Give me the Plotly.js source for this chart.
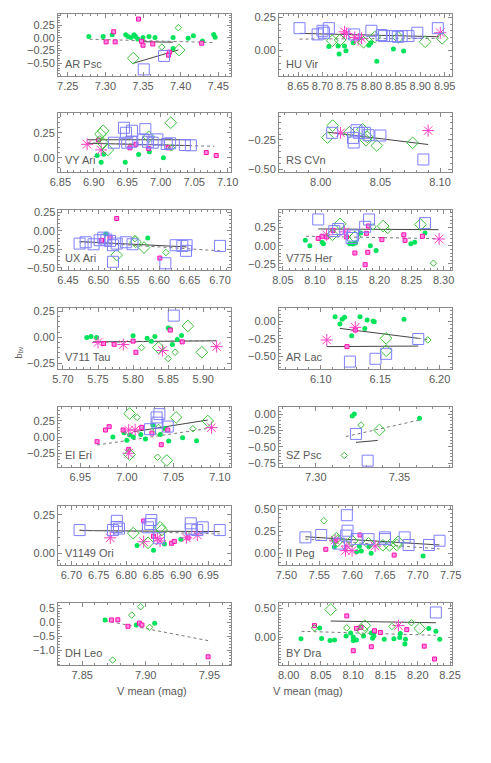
<!DOCTYPE html>
<html>
<head>
<meta charset="utf-8">
<script src="https://cdn.plot.ly/plotly-3.0.1.min.js"></script>
<style>
  html, body { margin: 0; padding: 0; background: #fff; }
  #chart { width: 491px; height: 763px; }
</style>
</head>
<body>
<div id="chart"></div>
<script>
// b_bv against mean V magnitude, one panel per star.
// Point lists are [V mean, b_bv]; fit lines are lists of [[x0,y0],[x1,y1]] segments.

// AR Psc
const arPscCircles = [[7.278,0.026],[7.297,0.026],[7.309,0.06],[7.327,0.06],[7.33,0.026],[7.334,0.01],[7.338,0.06],[7.34,0.026],[7.343,-0.02],[7.35,0.007],[7.358,0.026],[7.366,0.007],[7.39,0.007],[7.39,-0.21],[7.41,-0.007],[7.417,0.04],[7.429,-0.06],[7.444,0.066],[7.446,0.013]];
const arPscPinkSquares = [[7.301,-0.079],[7.311,0.12],[7.313,-0.079],[7.344,0.37],[7.348,-0.066],[7.35,-0.145],[7.363,-0.12],[7.385,-0.28],[7.384,-0.34],[7.428,-0.105]];
const arPscStars = [];
const arPscBigDiamonds = [[7.337,-0.40],[7.398,-0.24]];
const arPscSmallDiamonds = [[7.375,-0.18],[7.397,0.2]];
const arPscBlueSquares = [[7.378,-0.355],[7.351,-0.62]];
const arPscSolid = [[[7.337,-0.5],[7.397,-0.237]], [[7.345,-0.075],[7.39,-0.085]]];
const arPscDotted = [[[7.279,-0.026],[7.446,-0.092]]];

// HU Vir
const huVirCircles = [[8.713,0.026],[8.732,0.03],[8.734,-0.03],[8.745,0.03],[8.748,-0.005],[8.763,0.056],[8.795,0.036],[8.799,0.056],[8.811,-0.087],[8.845,0.008],[8.866,-0.008]];
const huVirPinkSquares = [];
const huVirStars = [[8.745,0.14],[8.749,0.128],[8.766,0.097],[8.773,0.08],[8.78,0.09],[8.941,0.133]];
const huVirBigDiamonds = [[8.72,0.071],[8.736,0.077],[8.784,0.06],[8.807,0.10],[8.855,0.097],[8.91,0.064],[8.945,0.09]];
const huVirSmallDiamonds = [];
const huVirBlueSquares = [[8.653,0.168],[8.69,0.12],[8.70,0.148],[8.703,0.133],[8.713,0.168],[8.765,0.12],[8.80,0.148],[8.821,0.115],[8.826,0.107],[8.842,0.107],[8.854,0.102],[8.862,0.107],[8.876,0.107],[8.894,0.133],[8.936,0.168]];
const huVirSolid = [[[8.653,0.128],[8.938,0.102]]];
const huVirDotted = [[[8.653,0.084],[8.938,0.09]]];

// VY Ari
const vyAriCircles = [[6.905,0.023],[6.911,-0.043],[6.915,0.036],[6.947,-0.043],[6.967,0.033],[6.983,0.062],[7.004,0.0]];
const vyAriPinkSquares = [[6.907,0.178],[6.954,0.10],[6.963,0.135],[6.982,0.092],[7.011,0.10],[7.068,0.053],[7.083,0.023]];
const vyAriStars = [[6.89,0.135],[6.911,0.079]];
const vyAriBigDiamonds = [[6.91,0.237],[6.914,0.27],[6.913,0.15],[6.921,0.079],[6.982,0.21],[7.015,0.35]];
const vyAriSmallDiamonds = [[6.909,0.19],[7.016,0.10]];
const vyAriBlueSquares = [[6.93,0.151],[6.945,0.30],[6.948,0.25],[6.957,0.27],[6.95,0.151],[6.956,0.16],[6.974,0.184],[6.977,0.286],[6.981,0.16],[6.988,0.151],[6.995,0.184],[7.009,0.138],[7.014,0.145],[7.036,0.128],[7.045,0.125]];
const vyAriSolid = [[[6.89,0.18],[7.045,0.18]], [[6.89,0.145],[7.045,0.122]]];
const vyAriDotted = [[[6.89,0.15],[7.08,0.115]]];

// RS CVn
const rsCvnCircles = [];
const rsCvnPinkSquares = [];
const rsCvnStars = [[8.0166,-0.19],[8.09,-0.171]];
const rsCvnBigDiamonds = [[8.0056,-0.23],[8.01,-0.129],[8.024,-0.185],[8.035,-0.16],[8.038,-0.253],[8.047,-0.298],[8.077,-0.275],[8.039,-0.225]];
const rsCvnSmallDiamonds = [];
const rsCvnBlueSquares = [[8.0096,-0.19],[8.0276,-0.272],[8.03,-0.168],[8.032,-0.19],[8.037,-0.19],[8.04,-0.21],[8.05,-0.213],[8.086,-0.416],[8.027,-0.233]];
const rsCvnSolid = [[[8.006,-0.185],[8.09,-0.289]]];
const rsCvnDotted = [];

// UX Ari
const uxAriCircles = [[6.512,-0.045],[6.581,-0.098]];
const uxAriPinkSquares = [[6.505,-0.13],[6.519,-0.094],[6.601,-0.37],[6.53,0.165]];
const uxAriStars = [];
const uxAriBigDiamonds = [[6.53,-0.33],[6.575,-0.228],[6.561,-0.152]];
const uxAriSmallDiamonds = [[6.56,-0.107],[6.611,-0.295]];
const uxAriBlueSquares = [[6.469,-0.174],[6.479,-0.156],[6.492,-0.183],[6.502,-0.129],[6.508,-0.094],[6.513,-0.12],[6.519,-0.138],[6.524,-0.196],[6.53,-0.174],[6.545,-0.156],[6.556,-0.183],[6.524,-0.42],[6.61,-0.44],[6.627,-0.196],[6.638,-0.205],[6.645,-0.196],[6.644,-0.272],[6.70,-0.205]];
const uxAriSolid = [[[6.469,-0.147],[6.645,-0.219]]];
const uxAriDotted = [[[6.469,-0.15],[6.70,-0.272]]];

// V775 Her
const v775HerCircles = [[8.085,0.074],[8.092,0.0],[8.111,0.046],[8.113,0.028],[8.154,0.028],[8.159,0.023],[8.163,0.037],[8.171,0.176],[8.186,0.0],[8.195,-0.065],[8.249,0.028],[8.255,0.046],[8.271,0.176]];
const v775HerPinkSquares = [[8.105,0.10],[8.111,0.13],[8.118,0.12],[8.128,0.21],[8.149,0.12],[8.162,-0.10],[8.178,-0.26],[8.182,-0.09],[8.183,0.27],[8.18,0.17],[8.204,0.083],[8.238,0.15],[8.24,0.074],[8.267,0.13]];
const v775HerStars = [[8.146,0.19],[8.118,0.15],[8.293,0.093]];
const v775HerBigDiamonds = [[8.139,0.30],[8.206,0.27],[8.264,0.29],[8.162,0.12],[8.127,0.15]];
const v775HerSmallDiamonds = [[8.19,0.26],[8.213,0.21],[8.284,-0.24]];
const v775HerBlueSquares = [[8.105,0.36],[8.136,0.23],[8.13,0.2],[8.159,0.14],[8.157,0.106],[8.178,0.26],[8.184,0.36],[8.271,0.31]];
const v775HerSolid = [[[8.105,0.23],[8.292,0.22]]];
const v775HerDotted = [[[8.086,0.13],[8.292,0.097]]];

// V711 Tau
const v711TauCircles = [[5.734,-0.003],[5.74,0.007],[5.748,-0.003],[5.80,0.014],[5.82,-0.01],[5.826,-0.037],[5.831,0.007],[5.853,0.08],[5.856,-0.07],[5.863,-0.02],[5.869,0.017],[5.85,0.09]];
const v711TauPinkSquares = [[5.758,-0.06],[5.773,-0.068],[5.804,-0.145],[5.80,-0.037],[5.853,0.07],[5.87,-0.044]];
const v711TauStars = [[5.75,-0.05],[5.786,-0.07],[5.842,-0.128],[5.919,-0.09]];
const v711TauBigDiamonds = [[5.836,-0.10],[5.898,-0.145],[5.878,0.11]];
const v711TauSmallDiamonds = [[5.812,-0.10],[5.85,-0.206],[5.86,-0.145]];
const v711TauBlueSquares = [[5.858,0.21]];
const v711TauSolid = [[[5.743,-0.044],[5.919,-0.034]]];
const v711TauDotted = [[[5.743,-0.05],[5.919,-0.03]]];

// AR Lac
const arLacCircles = [[6.112,0.066],[6.118,0.028],[6.12,0.057],[6.133,0.066],[6.139,0.019],[6.144,0.005],[6.145,-0.005],[6.17,0.028],[6.116,-0.038],[6.137,-0.1],[6.126,-0.203]];
const arLacPinkSquares = [[6.129,-0.123],[6.122,-0.358]];
const arLacStars = [[6.105,-0.264],[6.129,-0.085]];
const arLacBigDiamonds = [[6.155,-0.24],[6.155,-0.415]];
const arLacSmallDiamonds = [[6.19,-0.264]];
const arLacBlueSquares = [[6.182,-0.25],[6.155,-0.46],[6.146,-0.53],[6.1245,-0.57]];
const arLacSolid = [[[6.116,-0.10],[6.182,-0.24]], [[6.105,-0.358],[6.182,-0.35]]];
const arLacDotted = [[[6.182,-0.24],[6.19,-0.26]]];

// EI Eri
const eiEriCircles = [[6.997,0.066],[7.003,0.03],[7.007,0.0],[7.015,0.04],[7.028,0.184],[7.036,0.04],[7.041,0.13],[7.075,-0.057],[6.985,0.0],[7.02,-0.03],[7.045,-0.06],[7.06,-0.01],[7.0,-0.05]];
const eiEriPinkSquares = [[6.977,0.107],[6.981,0.158],[7.016,0.148],[6.996,0.107],[7.044,0.107],[7.027,0.06],[6.968,-0.072],[7.002,-0.19],[7.037,-0.118]];
const eiEriStars = [[7.002,0.107],[7.009,0.11],[7.091,0.143],[7.002,-0.25]];
const eiEriBigDiamonds = [[7.003,0.36],[7.053,0.30],[7.087,0.245],[7.034,0.107],[7.003,-0.27],[7.043,-0.36]];
const eiEriSmallDiamonds = [[7.011,0.30],[7.071,0.127],[7.033,-0.31]];
const eiEriBlueSquares = [[7.035,0.35],[7.032,0.30],[7.033,0.22],[7.025,0.12],[7.044,0.16]];
const eiEriSolid = [[[7.007,0.08],[7.087,0.26]]];
const eiEriDotted = [[[6.968,-0.123],[7.093,0.143]]];

// SZ Psc
const szPscCircles = [[7.3218,-0.026],[7.323,0.005],[7.362,-0.06]];
const szPscPinkSquares = [];
const szPscStars = [];
const szPscBigDiamonds = [[7.338,-0.24]];
const szPscSmallDiamonds = [[7.327,-0.164],[7.317,-0.63]];
const szPscBlueSquares = [[7.324,-0.30],[7.331,-0.71]];
const szPscSolid = [[[7.324,-0.43],[7.337,-0.40]]];
const szPscDotted = [[[7.318,-0.34],[7.362,-0.087]]];

// V1149 Ori
const v1149OriCircles = [[6.85,0.02],[6.82,0.05],[6.87,0.06],[6.90,0.09]];
const v1149OriPinkSquares = [[6.832,0.209],[6.85,0.11],[6.883,0.065],[6.888,0.077],[6.913,0.1]];
const v1149OriStars = [[6.771,0.1],[6.832,0.075],[6.857,0.097],[6.862,0.08],[6.91,0.1],[6.93,0.118]];
const v1149OriBigDiamonds = [[6.813,0.13],[6.862,0.168],[6.865,0.15],[6.84,0.068]];
const v1149OriSmallDiamonds = [];
const v1149OriBlueSquares = [[6.715,0.15],[6.776,0.15],[6.783,0.21],[6.783,0.17],[6.787,0.16],[6.84,0.168],[6.846,0.215],[6.844,0.19],[6.86,0.097],[6.918,0.194],[6.918,0.155],[6.93,0.15],[6.94,0.168],[6.971,0.15]];
const v1149OriSolid = [[[6.715,0.147],[6.971,0.14]]];
const v1149OriDotted = [[[6.715,0.15],[6.971,0.125]]];

// II Peg
const iiPegCircles = [[7.573,0.07],[7.611,0.08],[7.626,0.08],[7.607,0.018],[7.614,0.025],[7.629,0.0],[7.708,-0.03]];
const iiPegPinkSquares = [[7.612,0.207],[7.56,0.045],[7.574,0.14],[7.664,-0.02]];
const iiPegStars = [[7.592,0.082],[7.635,0.082],[7.574,0.15],[7.59,0.03],[7.6,0.03]];
const iiPegBigDiamonds = [[7.576,0.17],[7.578,0.14],[7.6,0.14],[7.625,0.113],[7.647,0.09],[7.657,0.09],[7.668,0.095],[7.67,0.13]];
const iiPegSmallDiamonds = [[7.557,0.368]];
const iiPegBlueSquares = [[7.529,0.18],[7.553,0.207],[7.592,0.43],[7.593,0.255],[7.591,0.2],[7.607,0.16],[7.625,0.16],[7.65,0.18],[7.65,0.16],[7.68,0.18],[7.686,0.094],[7.717,0.094],[7.733,0.142],[7.58,0.11]];
const iiPegSolid = [[[7.529,0.187],[7.733,0.094]]];
const iiPegDotted = [[[7.529,0.16],[7.733,0.05]]];

// DH Leo
const dhLeoCircles = [[7.868,0.083],[7.8925,-0.097],[7.907,-0.036]];
const dhLeoPinkSquares = [[7.873,0.083],[7.878,0.09],[7.886,-0.144],[7.895,-0.03],[7.897,-0.097],[7.949,-1.24]];
const dhLeoStars = [];
const dhLeoBigDiamonds = [];
const dhLeoSmallDiamonds = [[7.889,0.26],[7.896,0.56],[7.903,-0.18],[7.874,-1.36]];
const dhLeoBlueSquares = [];
const dhLeoSolid = [];
const dhLeoDotted = [[[7.868,0.058],[7.949,-0.66]]];

// BY Dra
const byDraCircles = [[8.019,-0.03],[8.048,0.16],[8.051,-0.024],[8.064,-0.06],[8.071,-0.05],[8.089,0.02],[8.096,0.07],[8.1,0.0],[8.1,-0.06],[8.105,-0.05],[8.116,0.02],[8.128,0.07],[8.132,0.02],[8.13,-0.02],[8.148,-0.04],[8.163,-0.03],[8.173,0.06],[8.172,-0.01],[8.181,-0.04],[8.18,-0.12],[8.217,0.15],[8.228,0.1],[8.234,-0.04]];
const byDraPinkSquares = [[8.04,0.2],[8.09,0.37],[8.105,0.15],[8.112,0.17],[8.133,0.11],[8.142,0.08],[8.183,0.13],[8.1,-0.24],[8.128,-0.17],[8.21,-0.16],[8.226,-0.385]];
const byDraStars = [[8.17,0.2]];
const byDraBigDiamonds = [[8.065,0.48],[8.118,0.2],[8.114,0.12],[8.203,0.15]];
const byDraSmallDiamonds = [[8.09,0.16],[8.16,0.185],[8.19,0.25],[8.04,0.16]];
const byDraBlueSquares = [[8.228,0.43]];
const byDraSolid = [[[8.065,0.28],[8.228,0.25]]];
const byDraDotted = [[[8.02,0.1],[8.228,0.03]]];

// y tick labels per panel
const arPscYTicks = [-0.5, -0.25, 0, 0.25];
const huVirYTicks = [0, 0.25];
const vyAriYTicks = [0, 0.25];
const rsCvnYTicks = [-0.5, -0.25];
const uxAriYTicks = [-0.5, -0.25, 0, 0.25];
const v775HerYTicks = [-0.25, 0, 0.25];
const v711TauYTicks = [-0.25, 0, 0.25];
const arLacYTicks = [-0.5, -0.25, 0];
const eiEriYTicks = [-0.25, 0, 0.25];
const szPscYTicks = [-0.75, -0.5, -0.25, 0];
const v1149OriYTicks = [0, 0.25];
const iiPegYTicks = [0, 0.25, 0.5];
const dhLeoYTicks = [-1, -0.5, 0, 0.5];
const byDraYTicks = [0, 0.5];

// panel grid in pixels (page is 491 x 763)
const W = 491, H = 763;
const colEdges = [[58, 231], [279, 452]];
const rowEdges = [[14, 76], [113, 172], [210, 270], [308, 369], [407, 467], [506, 565], [603, 665]];

const panels = [
  { label: "AR Psc", col: 0, row: 0, xr: [7.237, 7.467], yr: [-0.75, 0.47], yt: arPscYTicks,
    data: [arPscCircles, arPscPinkSquares, arPscStars, arPscBigDiamonds, arPscSmallDiamonds, arPscBlueSquares, arPscSolid, arPscDotted] },
  { label: "HU Vir", col: 1, row: 0, xr: [8.611, 8.965], yr: [-0.2, 0.277], yt: huVirYTicks,
    data: [huVirCircles, huVirPinkSquares, huVirStars, huVirBigDiamonds, huVirSmallDiamonds, huVirBlueSquares, huVirSolid, huVirDotted] },
  { label: "VY Ari", col: 0, row: 1, xr: [6.8465, 7.105], yr: [-0.141, 0.447], yt: vyAriYTicks,
    data: [vyAriCircles, vyAriPinkSquares, vyAriStars, vyAriBigDiamonds, vyAriSmallDiamonds, vyAriBlueSquares, vyAriSolid, vyAriDotted] },
  { label: "RS CVn", col: 1, row: 1, xr: [7.965, 8.110], yr: [-0.522, -0.022], yt: rsCvnYTicks,
    data: [rsCvnCircles, rsCvnPinkSquares, rsCvnStars, rsCvnBigDiamonds, rsCvnSmallDiamonds, rsCvnBlueSquares, rsCvnSolid, rsCvnDotted] },
  { label: "UX Ari", col: 0, row: 2, xr: [6.4335, 6.718], yr: [-0.531, 0.28], yt: uxAriYTicks, manualTop: true,
    data: [uxAriCircles, uxAriPinkSquares, uxAriStars, uxAriBigDiamonds, uxAriSmallDiamonds, uxAriBlueSquares, uxAriSolid, uxAriDotted] },
  { label: "V775 Her", col: 1, row: 2, xr: [8.044, 8.313], yr: [-0.333, 0.49], yt: v775HerYTicks,
    data: [v775HerCircles, v775HerPinkSquares, v775HerStars, v775HerBigDiamonds, v775HerSmallDiamonds, v775HerBlueSquares, v775HerSolid, v775HerDotted] },
  { label: "V711 Tau", col: 0, row: 3, xr: [5.693, 5.9395], yr: [-0.307, 0.284], yt: v711TauYTicks,
    data: [v711TauCircles, v711TauPinkSquares, v711TauStars, v711TauBigDiamonds, v711TauSmallDiamonds, v711TauBlueSquares, v711TauSolid, v711TauDotted] },
  { label: "AR Lac", col: 1, row: 3, xr: [6.0648, 6.2104], yr: [-0.675, 0.189], yt: arLacYTicks,
    data: [arLacCircles, arLacPinkSquares, arLacStars, arLacBigDiamonds, arLacSmallDiamonds, arLacBlueSquares, arLacSolid, arLacDotted] },
  { label: "EI Eri", col: 0, row: 4, xr: [6.926, 7.112], yr: [-0.46, 0.46], yt: eiEriYTicks,
    data: [eiEriCircles, eiEriPinkSquares, eiEriStars, eiEriBigDiamonds, eiEriSmallDiamonds, eiEriBlueSquares, eiEriSolid, eiEriDotted] },
  { label: "SZ Psc", col: 1, row: 4, xr: [7.278, 7.3814], yr: [-0.807, 0.112], yt: szPscYTicks,
    data: [szPscCircles, szPscPinkSquares, szPscStars, szPscBigDiamonds, szPscSmallDiamonds, szPscBlueSquares, szPscSolid, szPscDotted] },
  { label: "V1149 Ori", col: 0, row: 5, xr: [6.6756, 6.9915], yr: [-0.076, 0.306], yt: v1149OriYTicks,
    data: [v1149OriCircles, v1149OriPinkSquares, v1149OriStars, v1149OriBigDiamonds, v1149OriSmallDiamonds, v1149OriBlueSquares, v1149OriSolid, v1149OriDotted] },
  { label: "II Peg", col: 1, row: 5, xr: [7.4888, 7.752], yr: [-0.132, 0.534], yt: iiPegYTicks,
    data: [iiPegCircles, iiPegPinkSquares, iiPegStars, iiPegBigDiamonds, iiPegSmallDiamonds, iiPegBlueSquares, iiPegSolid, iiPegDotted] },
  { label: "DH Leo", col: 0, row: 6, xr: [7.831, 7.967], yr: [-1.536, 0.694], yt: dhLeoYTicks,
    data: [dhLeoCircles, dhLeoPinkSquares, dhLeoStars, dhLeoBigDiamonds, dhLeoSmallDiamonds, dhLeoBlueSquares, dhLeoSolid, dhLeoDotted] },
  { label: "BY Dra", col: 1, row: 6, xr: [7.985, 8.253], yr: [-0.49, 0.596], yt: byDraYTicks,
    data: [byDraCircles, byDraPinkSquares, byDraStars, byDraBigDiamonds, byDraSmallDiamonds, byDraBlueSquares, byDraSolid, byDraDotted] },
];

// marker styles, same order as panel.data[0..5]
const markerStyles = [
  { symbol: "circle", size: 5, color: "#00e35a", line: { width: 0 } },
  { symbol: "square", size: 4, color: "#ff88dd", line: { width: 1, color: "#ff10b0" } },
  { symbol: "asterisk-open", size: 10, color: "#ff40c8", line: { width: 1, color: "#ff40c8" } },
  { symbol: "diamond-open", size: 9, color: "#3cc23c", line: { width: 1, color: "#3cc23c" } },
  { symbol: "diamond-open", size: 5, color: "#3cc23c", line: { width: 1, color: "#3cc23c" } },
  { symbol: "square-open", size: 11, color: "#7f7fff", line: { width: 1, color: "#7f7fff" } },
];

const textFont = { family: "Liberation Sans, Arial, sans-serif", size: 11, color: "#5a5a5a" };

function segmentsToXY(segs) {
  const x = [], y = [];
  segs.forEach(s => { x.push(s[0][0], s[1][0], null); y.push(s[0][1], s[1][1], null); });
  return { x, y };
}

function fmtTick(v, digits) {
  const s = Math.abs(v).toFixed(digits);
  return v < 0 ? "\u2212" + s : s;
}

const traces = [];
const layout = {
  width: W, height: H,
  margin: { l: 0, r: 0, t: 0, b: 0 },
  paper_bgcolor: "#fff", plot_bgcolor: "#fff",
  showlegend: false,
  annotations: [],
};

panels.forEach((p, i) => {
  const n = i === 0 ? "" : String(i + 1);
  const xa = "x" + n, ya = "y" + n;
  const [l, r] = colEdges[p.col];
  const [t, b] = rowEdges[p.row];

  // fit lines first so markers sit on top
  const solid = segmentsToXY(p.data[6]);
  traces.push({ x: solid.x, y: solid.y, xaxis: xa, yaxis: ya, mode: "lines",
    line: { color: "#444", width: 1 }, hoverinfo: "skip" });
  const dotted = segmentsToXY(p.data[7]);
  traces.push({ x: dotted.x, y: dotted.y, xaxis: xa, yaxis: ya, mode: "lines",
    line: { color: "#777", width: 1, dash: "dot" }, hoverinfo: "skip" });

  markerStyles.forEach((m, k) => {
    const pts = p.data[k];
    traces.push({
      x: pts.map(d => d[0]), y: pts.map(d => d[1]),
      xaxis: xa, yaxis: ya, mode: "markers", type: "scatter",
      marker: m, cliponaxis: true,
    });
  });

  const common = {
    showline: true, linecolor: "#8a8a8a", linewidth: 1, mirror: "allticks",
    ticks: "inside", ticklen: 4, tickcolor: "#8a8a8a", tickwidth: 1,
    showgrid: false, zeroline: false, tickfont: textFont,
  };
  layout["xaxis" + n] = Object.assign({}, common, {
    domain: [l / W, r / W], anchor: ya, range: p.xr,
    dtick: 0.05, tick0: 0, tickformat: ".2f",
    minor: { ticks: "inside", ticklen: 2, tickcolor: "#8a8a8a", nticks: 5, showgrid: false },
  });
  const yDigits = (Math.max(...p.yt) - Math.min(...p.yt) > 1) ? 1 : 2;
  const yText = p.yt.map(v => fmtTick(v, yDigits));
  if (p.manualTop) {
    // top label is placed as an annotation (the axis drops it at this edge)
    const top = p.yt[p.yt.length - 1];
    layout.annotations.push({
      text: yText[yText.length - 1], xref: xa + " domain", yref: ya,
      x: 0, y: top, xanchor: "right", yanchor: "middle", xshift: -1,
      showarrow: false, font: textFont,
    });
    yText[yText.length - 1] = "";
  }
  layout["yaxis" + n] = Object.assign({}, common, {
    domain: [1 - b / H, 1 - t / H], anchor: xa, range: p.yr,
    tickmode: "array", tickvals: p.yt, ticktext: yText,
    minor: { ticks: "inside", ticklen: 2, tickcolor: "#8a8a8a", dtick: yDigits === 1 ? 0.1 : 0.05, showgrid: false },
  });

  layout.annotations.push({
    text: p.label, xref: xa + " domain", yref: ya + " domain",
    x: 0.03, y: 0.06, xanchor: "left", yanchor: "bottom", showarrow: false,
    font: textFont,
  });
});

// shared axis titles
layout.annotations.push(
  { text: "b<sub>bv</sub>", xref: "paper", yref: "paper", x: 12 / W, y: 1 - 352 / H,
    textangle: -90, showarrow: false, font: { family: "Liberation Sans, Arial, sans-serif", size: 9, color: "#5a5a5a" } },
  { text: "V mean (mag)", xref: "paper", yref: "paper", x: 115 / W, y: 1 - 699 / H,
    showarrow: false, font: textFont },
  { text: "V mean (mag)", xref: "paper", yref: "paper", x: 345 / W, y: 1 - 699 / H,
    showarrow: false, font: textFont }
);

Plotly.newPlot("chart", traces, layout, { displayModeBar: false, staticPlot: true });
</script>
</body>
</html>
